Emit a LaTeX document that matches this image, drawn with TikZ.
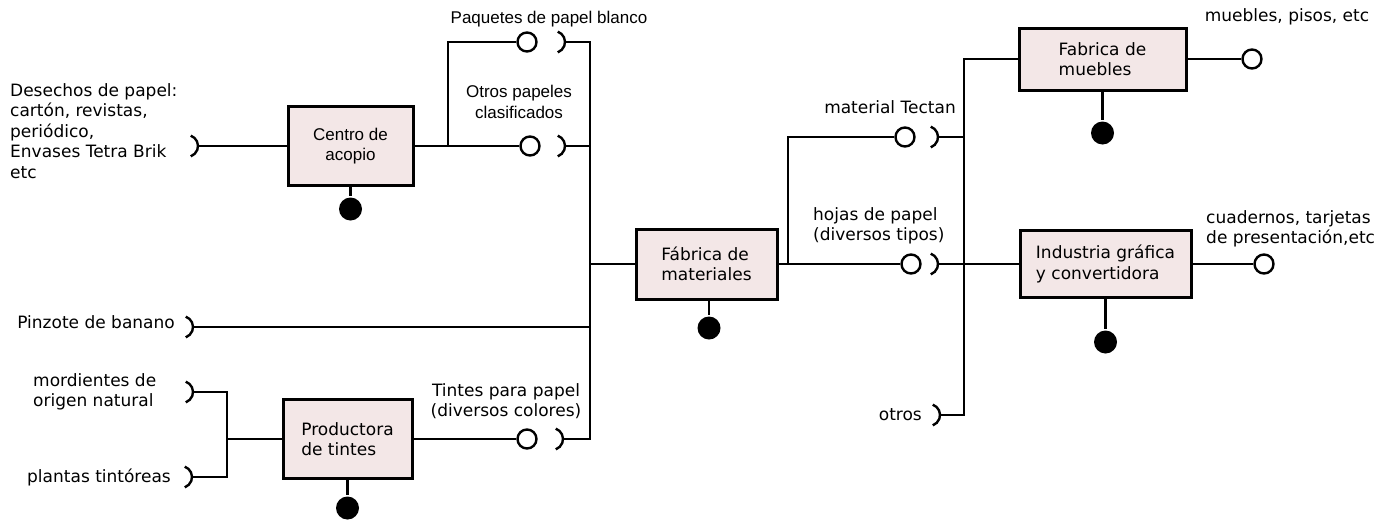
\documentclass[tikz,border=0pt]{standalone}
\usepackage{fontspec}
\setmainfont{DejaVu Sans}
\newfontfamily\arialfont{Liberation Sans}
\newcommand{\txt}{\fontsize{17}{20.5}\selectfont}
\definecolor{boxpink}{RGB}{243,231,231}
\tikzset{
  proc/.style={draw, line width=3pt, fill=boxpink, inner sep=0pt, align=left},
  outlet/.style={circle, draw, line width=2.4pt, fill=white, minimum size=19pt, inner sep=0pt},
  waste/.style={circle, fill=black, minimum size=23pt, inner sep=0pt},
  lbl/.style={inner sep=0pt},
  socket/.pic={\draw[line width=2.4pt] ([xshift=-11pt]70:11pt) arc[start angle=70, end angle=-70, radius=11pt];}
}

\begin{document}
\begin{tikzpicture}[x=1pt, y=-1pt, line width=2.4pt, font=\txt]
    \useasboundingbox (0,0) rectangle (1397,520);
    % Processes
    \node[proc, minimum width=125pt, minimum height=79pt, align=center, font=\arialfont\txt]
        (acopio) at (350.5,146) {Centro de\\acopio};
    \node[proc, minimum width=129pt, minimum height=79pt] (tintes) at (347.5,439) {Productora\\de tintes};
    \node[proc, minimum width=141pt, minimum height=70pt] (materiales) at (706.5,264) {Fábrica de\\materiales};
    \node[proc, minimum width=167pt, minimum height=62pt] (muebles) at (1102.5,59) {Fabrica de\\muebles};
    \node[proc, minimum width=171pt, minimum height=67pt] (grafica) at (1105.5,264) {Industria gráfica\\y convertidora};
    % Inputs
    \coordinate (sDes) at (198,146);
    \coordinate (sPin) at (193,327);
    \coordinate (sMor) at (193,392);
    \coordinate (sPla) at (192,477);
    \coordinate (sPaq) at (565,42);
    \coordinate (sOtr) at (565,146);
    \coordinate (sTin) at (563,439);
    \coordinate (sTec) at (938,137);
    \coordinate (sHoj) at (938,264);
    \coordinate (sOtros) at (940,415);
    \foreach \s in {sDes,sPin,sMor,sPla,sPaq,sOtr,sTin,sTec,sHoj,sOtros}
        \pic at (\s) {socket};
    % Outputs
    \node[outlet] (oPaq) at (527,42) {};
    \node[outlet] (oOtr) at (530,146) {};
    \node[outlet] (oTin) at (527,439) {};
    \node[outlet] (oTec) at (905,137) {};
    \node[outlet] (oHoj) at (911,264) {};
    \node[outlet] (oMue) at (1252,59) {};
    \node[outlet] (oGra) at (1264,264) {};
    % Residues
    \node[waste] (dAco) at (350.5,209) {};
    \node[waste] (dTin) at (347.5,508) {};
    \node[waste] (dMat) at (709,328) {};
    \node[waste] (dMue) at (1102.5,133) {};
    \node[waste] (dGra) at (1105.5,342) {};
    % Junctions
    \coordinate (jSplit) at (448,146);
    \coordinate (jTop) at (590,42);
    \coordinate (jBot) at (590,439);
    \coordinate (jDye) at (227,439);
    \coordinate (jMat) at (788,264);
    \coordinate (kTop) at (964,59);
    \coordinate (kBot) at (964,415);
    % Connectors
    \draw (sDes) -- (acopio);
    \draw (acopio) -- (oOtr);
    \draw (jSplit) |- (oPaq);
    \draw (sPaq) -- (jTop) -- (jBot) -- (sTin);
    \draw (sOtr) -- (sOtr -| jTop);
    \draw (sPin) -- (sPin -| jTop);
    \draw (jTop |- materiales) -- (materiales);
    \draw (sMor) -| (jDye);
    \draw (sPla) -| (jDye);
    \draw (jDye) -- (tintes);
    \draw (tintes) -- (oTin);
    \draw (materiales) -- (oHoj);
    \draw (jMat) |- (oTec);
    \draw (muebles) -- (kTop) -- (kBot) -- (sOtros);
    \draw (sTec) -- (sTec -| kTop);
    \draw (sHoj) -- (grafica);
    \draw (muebles) -- (oMue);
    \draw (grafica) -- (oGra);
    \draw (acopio) -- (dAco);
    \draw (tintes) -- (dTin);
    \draw (dMat |- materiales.south) -- (dMat);
    \draw (muebles) -- (dMue);
    \draw (grafica) -- (dGra);
    % Labels
    \node[lbl, anchor=west, align=left] (tDes) at (9,131)
        {Desechos de papel:\\cartón, revistas,\\periódico,\\Envases Tetra Brik\\etc};
    \node[lbl, anchor=east] (tPin) at (176,322) {Pinzote de banano};
    \node[lbl, anchor=west, align=left] (tMor) at (32,392) {mordientes de\\origen natural};
    \node[lbl, anchor=west] (tPla) at (26,477) {plantas tintóreas};
    \node[lbl, font=\arialfont\txt] (tPaq) at (549,19) {Paquetes de papel blanco};
    \node[lbl, font=\arialfont\txt, align=center] (tOtr) at (519,102) {Otros papeles\\clasificados};
    \node[lbl, align=center] (tTin) at (506,401) {Tintes para papel\\(diversos colores)};
    \node[lbl] (tTec) at (890,107) {material Tectan};
    \node[lbl, anchor=west, align=left] (tHoj) at (812,226) {hojas de papel\\(diversos tipos)};
    \node[lbl, anchor=east] (tOtros) at (923,415) {otros};
    \node[lbl] (tMue) at (1287,17) {muebles, pisos, etc};
    \node[lbl, anchor=west, align=left] (tGra) at (1205,229) {cuadernos, tarjetas\\de presentación,etc};
\end{tikzpicture}
\end{document}
